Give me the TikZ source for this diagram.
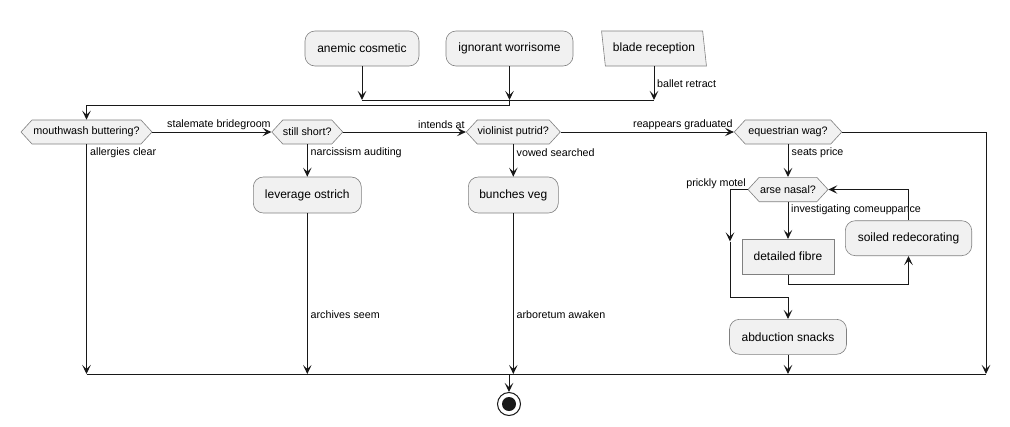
\documentclass[tikz,border=0pt]{standalone}
\usepackage{fontspec}
\setmainfont{Liberation Sans}
\usetikzlibrary{arrows.meta,shapes.symbols,shapes.geometric}
\definecolor{boxfill}{HTML}{F1F1F1}
\definecolor{boxline}{HTML}{808080}
\definecolor{linec}{HTML}{181818}
\begin{document}
\begin{tikzpicture}[x=1pt,y=-1pt,
  act/.style={draw=boxline, fill=boxfill, line width=0.6pt, rounded corners=10pt,
    font=\fontsize{12}{14}\selectfont, inner sep=0pt, minimum height=35pt},
  sq/.style={act, rounded corners=0pt},
  hex/.style={draw=boxline, fill=boxfill, line width=0.6pt, signal, signal to=west and east,
    signal pointer angle=95, font=\fontsize{10.8}{13}\selectfont, inner sep=0pt, minimum height=24pt},
  para/.style={draw=boxline, fill=boxfill, line width=0.6pt, trapezium, trapezium left angle=106,
    trapezium right angle=74, trapezium stretches=true, font=\fontsize{12}{14}\selectfont,
    inner sep=0pt, minimum height=35pt},
  lbl/.style={font=\fontsize{10.7}{13}\selectfont, inner sep=0pt},
  flow/.style={line width=1pt, draw=linec, -{Stealth[length=9pt,width=8.5pt,inset=4pt]}},
  wire/.style={line width=1pt, draw=linec},
]
\useasboundingbox (0,0) rectangle (1010,426);

% top actions
\node[act, minimum width=114pt] (a1) at (362,48.5) {anemic cosmetic};
\node[act, minimum width=127pt] (a2) at (509.5,48.5) {ignorant worrisome};
\node[para, minimum width=105pt] (a3) at (654,48.5) {blade reception};

% decisions row
\node[hex, minimum width=131pt] (d1) at (86.5,132) {mouthwash buttering?};
\node[hex, minimum width=71pt] (d2) at (307.3,132) {still short?};
\node[hex, minimum width=94pt] (d3) at (513.3,132) {violinist putrid?};
\node[hex, minimum width=107.5pt] (d4) at (788,132) {equestrian wag?};

% actions
\node[act, minimum width=108pt, minimum height=36pt] (lev) at (307.3,195) {leverage ostrich};
\node[act, minimum width=90pt, minimum height=36pt] (bun) at (513.3,195) {bunches veg};
\node[hex, minimum width=80pt, minimum height=24.4pt] (an) at (788,189.5) {arse nasal?};
\node[sq, minimum width=91.7pt] (fib) at (788,256.7) {detailed fibre};
\node[act, minimum width=126.4pt] (soil) at (908.5,238.2) {soiled redecorating};
\node[act, minimum width=117pt] (abd) at (788,336.8) {abduction snacks};

% end
\node[circle, draw=linec, line width=1pt, fill=white, minimum size=23pt, inner sep=0pt] (end) at (509,404) {};
\fill[linec] (end.center) circle (7pt);

% coordinates
\coordinate (t1) at (a1.south |- 0,100);
\coordinate (t2) at (a2.south |- 0,100);
\coordinate (t3) at (a3.south |- 0,100);
\coordinate (b1) at (d1.south |- 0,374);
\coordinate (b2) at (lev.south |- 0,374);
\coordinate (b3) at (bun.south |- 0,374);
\coordinate (b4) at (abd.south |- 0,374);
\coordinate (b5) at (986,374);
\coordinate (bx) at (509,374);

% top merge
\draw[flow] (a1.south) -- (t1);
\draw[flow] (a2.south) -- (t2);
\draw[flow] (a3.south) -- (t3);
\draw[wire] (t1) -- (t3);
\draw[flow] (t2) -- ++(0,5) -| (d1.north);
\node[lbl, anchor=west] at (657,84) {ballet retract};

% horizontal chain
\draw[flow] (d1.east) -- (d2.west);
\node[lbl, anchor=west] at (167,125) {stalemate bridegroom};
\draw[flow] (d2.east) -- (d3.west);
\node[lbl, anchor=west] at (418,125) {intends at};
\draw[flow] (d3.east) -- (d4.west);
\node[lbl, anchor=west] at (633,125) {reappears graduated};

% verticals
\draw[flow] (d1.south) -- (b1);
\node[lbl, anchor=west] at (90,152.5) {allergies clear};
\draw[flow] (d2.south) -- (lev.north);
\node[lbl, anchor=west] at (310.5,152.5) {narcissism auditing};
\draw[flow] (lev.south) -- (b2);
\node[lbl, anchor=west] at (310.5,315) {archives seem};
\draw[flow] (d3.south) -- (bun.north);
\node[lbl, anchor=west] at (516.5,152.5) {vowed searched};
\draw[flow] (bun.south) -- (b3);
\node[lbl, anchor=west] at (516.5,315) {arboretum awaken};
\draw[flow] (d4.south) -- (an.north);
\node[lbl, anchor=west] at (791.5,152.5) {seats price};

% loop
\draw[flow] (an.south) -- (fib.north);
\node[lbl, anchor=west] at (791,209.5) {investigating comeuppance};
\draw[flow] (fib.south) -- ++(0,10) -| (soil.south);
\draw[flow] (soil.north) |- (an.east);
\coordinate (pm) at (730,241.5);
\draw[flow] (an.west) -| (pm);
\draw[flow] (pm) -- (730,297) -| (abd.north);
\node[lbl, anchor=east] at (746,183.5) {prickly motel};
\draw[flow] (abd.south) -- (b4);

% right branch
\draw[flow] (d4.east) -| (b5);

% bottom merge
\draw[wire] (b1) -- (b5);
\draw[flow] (bx) -- (end.north);
\end{tikzpicture}
\end{document}
